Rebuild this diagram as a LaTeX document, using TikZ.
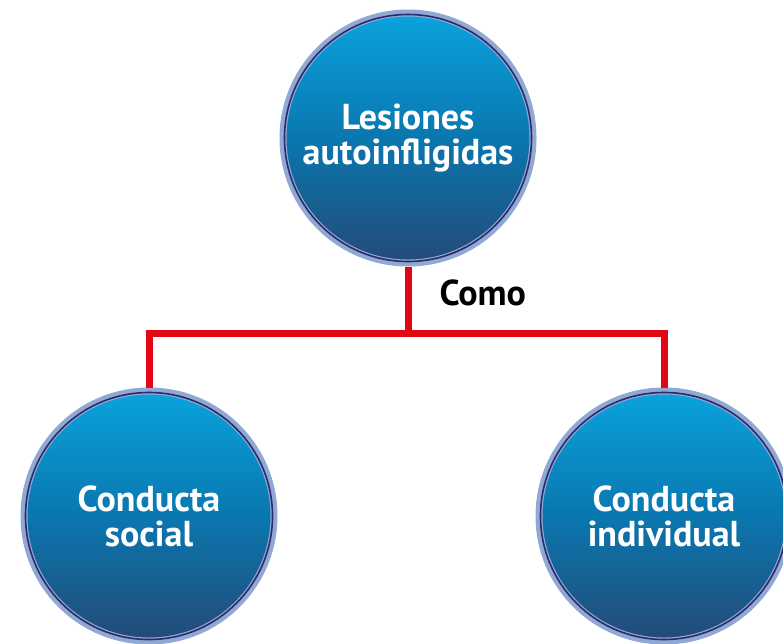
\documentclass[tikz,border=0pt]{standalone}
\usepackage{fontspec}
\setmainfont{PT Sans}
\definecolor{ringc}{HTML}{8FA9D4}
\definecolor{navyc}{HTML}{2C2A6C}
\definecolor{topc}{HTML}{0AA3DE}
\definecolor{midc}{HTML}{0A77AF}
\definecolor{botc}{HTML}{244A77}
\definecolor{redc}{HTML}{E30613}
\tikzset{
  ball/.style={circle, minimum size=250pt, inner sep=0pt,
    top color=topc, bottom color=botc, middle color=midc,
    draw=ringc, line width=7pt,
    text=white, font=\bfseries\fontsize{36}{35}\selectfont, align=center},
  innerring/.style={draw=navyc, line width=1.6pt},
  link/.style={draw=redc, line width=7pt},
  lbl/.style={font=\bfseries\fontsize{36}{35}\selectfont, text=black}
}
\begin{document}
\begin{tikzpicture}[x=1pt,y=1pt]
\useasboundingbox (0,0) rectangle (783,-643);
\node[ball] (top) at (408,-138) {Lesiones\\autoinfligidas};
\node[ball] (left) at (149,-516) {Conducta\\social};
\node[ball] (right) at (664,-516) {Conducta\\individual};
\foreach \n in {top,left,right}{
  \draw[innerring] (\n.center) circle (123.5pt);
}
\coordinate (hub) at (408,-333);
\draw[link] (top.south) -- (hub);
\draw[link] (hub) -| (left.north);
\draw[link] (hub) -| (right.north);
\node[lbl, anchor=base west] (como) at (436,-305) {Como};
\end{tikzpicture}
\end{document}
